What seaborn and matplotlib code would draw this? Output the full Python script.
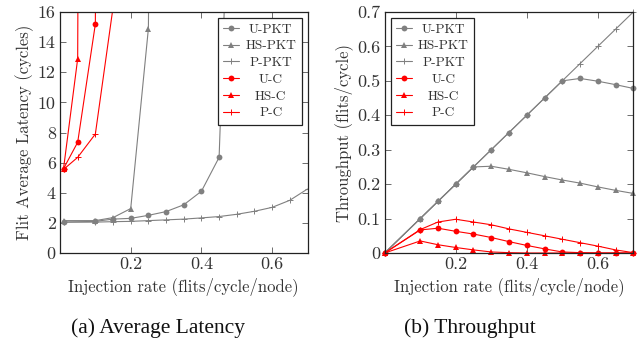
import numpy as np
import pandas as pd
import matplotlib
matplotlib.use("Agg")
import matplotlib.pyplot as plt
import seaborn as sns

# ---------------- data ----------------
# Latency (cycles)
lat_x_pkt = [0.01, 0.10, 0.15, 0.20, 0.25, 0.30, 0.35, 0.40, 0.45, 0.50, 0.55, 0.60, 0.65, 0.70]
lat_u_pkt = [2.05, 2.10, 2.25, 2.30, 2.50, 2.75, 3.20, 4.10, 6.35, 40.0, np.nan, np.nan, np.nan, np.nan]
lat_hs_pkt = [2.15, 2.15, 2.35, 2.95, 14.9, 150.0, np.nan, np.nan, np.nan, np.nan, np.nan, np.nan, np.nan, np.nan]
lat_p_pkt = [2.05, 2.05, 2.08, 2.10, 2.15, 2.20, 2.25, 2.33, 2.42, 2.57, 2.77, 3.03, 3.50, 4.25]
lat_x_c = [0.01, 0.05, 0.10, 0.15, 0.20]
lat_u_c = [5.60, 7.35, 15.2, 300.0, np.nan]
lat_hs_c = [5.60, 12.9, 300.0, np.nan, np.nan]
lat_p_c = [5.55, 6.35, 7.90, 16.3, 200.0]

# Throughput (flits/cycle)
thr_x = [0.0, 0.10, 0.15, 0.20, 0.25, 0.30, 0.35, 0.40, 0.45, 0.50, 0.55, 0.60, 0.65, 0.70]
thr_u_pkt = [0.0, 0.10, 0.15, 0.20, 0.25, 0.30, 0.35, 0.40, 0.45, 0.50, 0.507, 0.499, 0.489, 0.478]
thr_hs_pkt = [0.0, 0.10, 0.15, 0.20, 0.25, 0.252, 0.243, 0.233, 0.222, 0.212, 0.203, 0.192, 0.182, 0.173]
thr_p_pkt = [0.0, 0.10, 0.15, 0.20, 0.25, 0.30, 0.35, 0.40, 0.45, 0.50, 0.55, 0.60, 0.65, 0.70]
thr_u_c = [0.0, 0.067, 0.072, 0.063, 0.055, 0.045, 0.033, 0.022, 0.012, 0.003, 0.001, 0.0, 0.0, 0.0]
thr_hs_c = [0.0, 0.035, 0.024, 0.016, 0.009, 0.003, 0.001, 0.0, 0.0, 0.0, 0.0, 0.0, 0.0, 0.0]
thr_p_c = [0.0, 0.068, 0.090, 0.098, 0.090, 0.082, 0.070, 0.060, 0.050, 0.040, 0.030, 0.020, 0.009, 0.001]

series_names = ["U-PKT", "HS-PKT", "P-PKT", "U-C", "HS-C", "P-C"]
x_ticks = [0.2, 0.4, 0.6]
lat_yticks = [0, 2, 4, 6, 8, 10, 12, 14, 16]
thr_yticks = [0, 0.1, 0.2, 0.3, 0.4, 0.5, 0.6, 0.7]

# ---------------- style ----------------
sns.set_style("ticks")
plt.rcParams["font.family"] = ["cmr10", "DejaVu Serif"]
plt.rcParams["axes.formatter.use_mathtext"] = True
plt.rcParams["mathtext.fontset"] = "cm"

TXT = "#333333"
GRAY = "#808080"
RED = "#ff0000"

styles = {
    "U-PKT": dict(color=GRAY, marker="o", ms=4.2, mew=0),
    "HS-PKT": dict(color=GRAY, marker="^", ms=4.6, mew=0),
    "P-PKT": dict(color=GRAY, marker="+", ms=5, mew=0.7),
    "U-C": dict(color=RED, marker="o", ms=4.2, mew=0),
    "HS-C": dict(color=RED, marker="^", ms=4.6, mew=0),
    "P-C": dict(color=RED, marker="+", ms=5, mew=0.7),
}

fig = plt.figure(figsize=(6.43, 3.46), dpi=100)
ax1 = fig.add_axes([60 / 643, 1 - 253 / 346, 247.5 / 643, 241 / 346])
ax2 = fig.add_axes([384.7 / 643, 1 - 253 / 346, 248.6 / 643, 241 / 346])


def draw(ax, xs, ys, name, clip=True):
    st = styles[name]
    df = pd.DataFrame({"x": xs, "y": ys}).dropna()
    sns.lineplot(data=df, x="x", y="y", ax=ax, color=st["color"], marker=st["marker"],
                 markersize=st["ms"], markeredgewidth=st["mew"],
                 markeredgecolor=st["color"], linewidth=0.8, label=name,
                 estimator=None, sort=False, clip_on=clip)


draw(ax1, lat_x_pkt, lat_u_pkt, "U-PKT")
draw(ax1, lat_x_pkt, lat_hs_pkt, "HS-PKT")
draw(ax1, lat_x_pkt, lat_p_pkt, "P-PKT")
draw(ax1, lat_x_c, lat_u_c, "U-C")
draw(ax1, lat_x_c, lat_hs_c, "HS-C")
draw(ax1, lat_x_c, lat_p_c, "P-C")

draw(ax2, thr_x, thr_u_pkt, "U-PKT", clip=False)
draw(ax2, thr_x, thr_hs_pkt, "HS-PKT", clip=False)
draw(ax2, thr_x, thr_p_pkt, "P-PKT", clip=False)
draw(ax2, thr_x, thr_u_c, "U-C", clip=False)
draw(ax2, thr_x, thr_hs_c, "HS-C", clip=False)
draw(ax2, thr_x, thr_p_c, "P-C", clip=False)

for ax, yt, ylim, ylab in [
    (ax1, lat_yticks, (0, 16), "Flit Average Latency (cycles)"),
    (ax2, thr_yticks, (0, 0.7), "Throughput (flits/cycle)"),
]:
    ax.set_xlim(0, 0.7)
    ax.set_ylim(*ylim)
    ax.set_xticks(x_ticks)
    ax.set_xticklabels([f"{v:g}" for v in x_ticks])
    ax.set_yticks(yt)
    ax.set_yticklabels([f"{v:g}" for v in yt])
    ax.tick_params(direction="in", length=4, width=0.6, top=True, right=True,
                   labelsize=13, labelcolor=TXT, colors="#555555", pad=3)
    for s in ax.spines.values():
        s.set_linewidth(0.9)
        s.set_color("#222222")
        s.set_visible(True)
    ax.set_xlabel("Injection rate (flits/cycle/node)", fontsize=12, color=TXT, labelpad=3)
    ax.set_ylabel(ylab, fontsize=12, color=TXT, labelpad=3)

leg_kw = dict(fontsize=9.6, frameon=True, fancybox=False, handlelength=1.2,
              handletextpad=0.45, borderpad=0.4, labelspacing=0.33, borderaxespad=0.45)
l1 = ax1.legend(loc="upper right", **leg_kw)
l2 = ax2.legend(loc="upper left", **leg_kw)
for leg in (l1, l2):
    fr = leg.get_frame()
    fr.set_edgecolor("#222222")
    fr.set_linewidth(0.9)
    fr.set_alpha(1)
    for t in leg.get_texts():
        t.set_color(TXT)

# centre legend texts within their column (as in the original)
fig.canvas.draw()
renderer = fig.canvas.get_renderer()
for leg in (l1, l2):
    texts = leg.get_texts()
    widths = [t.get_window_extent(renderer).width for t in texts]
    mw = max(widths)
    for t, w in zip(texts, widths):
        t.set_x((mw - w) / 2.0)

fig.text(158 / 643, 1 - 328 / 346, "(a) Average Latency", ha="center", va="center",
         fontsize=15.5, family="Liberation Serif", color="#111111")
fig.text(470 / 643, 1 - 328 / 346, "(b) Throughput", ha="center", va="center",
         fontsize=15.5, family="Liberation Serif", color="#111111")

fig.savefig("out.png", dpi=100)
